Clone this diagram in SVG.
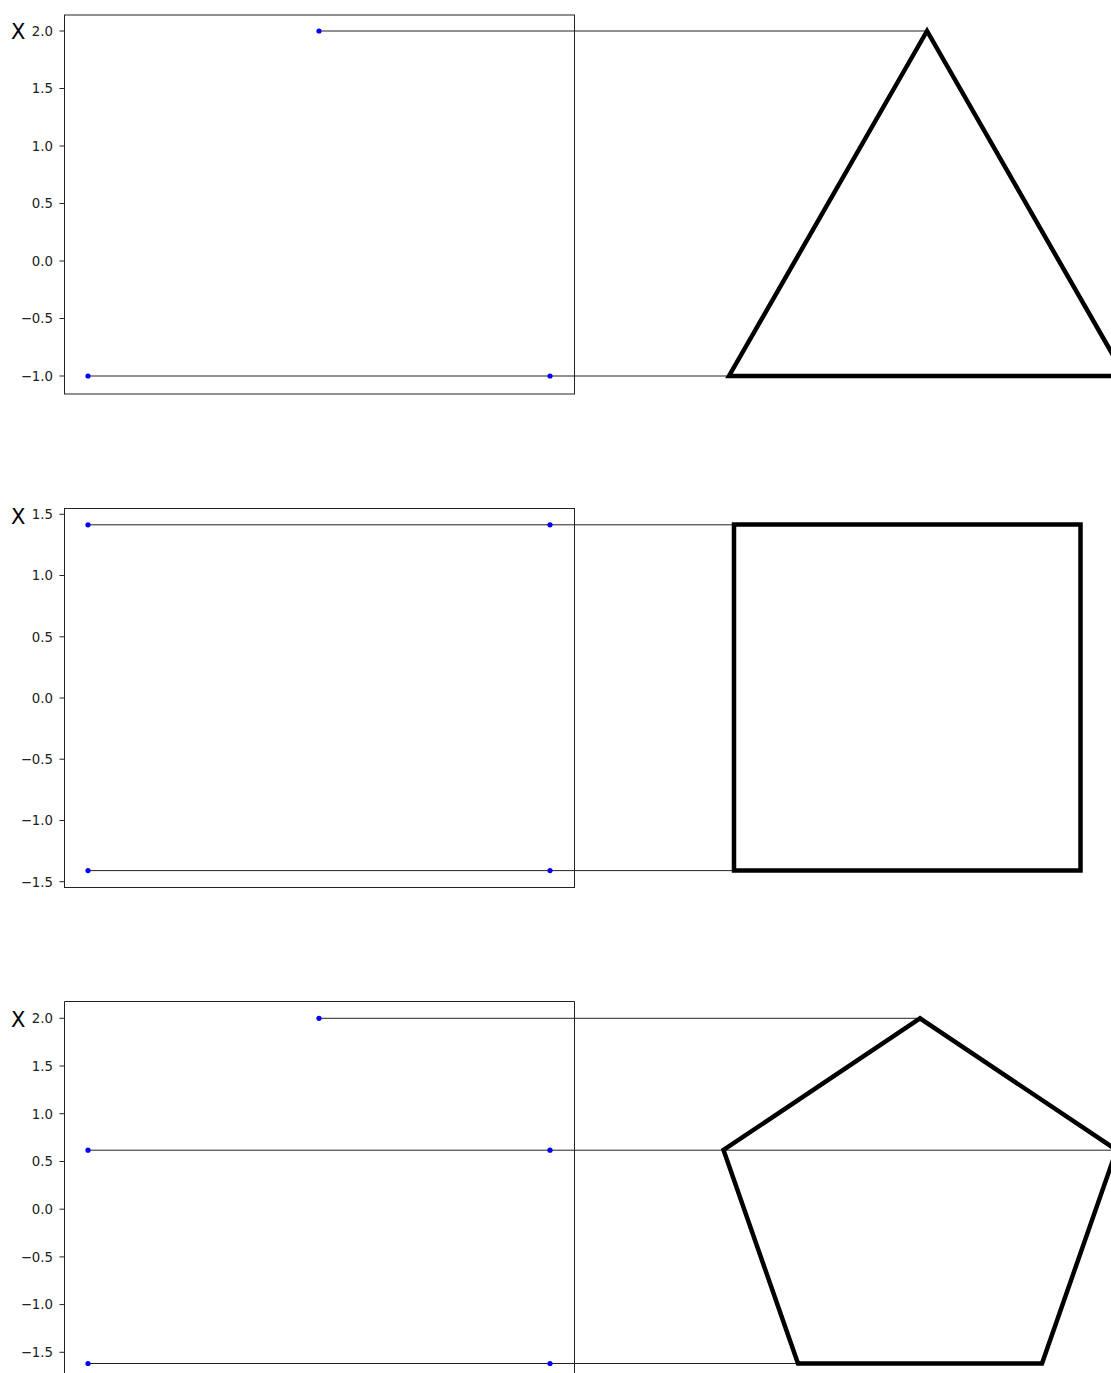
<svg xmlns="http://www.w3.org/2000/svg" width="1111" height="1373" viewBox="0 0 1111 1373">
<style>
.frame{fill:none;stroke:#222;stroke-width:1}
.tick{stroke:#222;stroke-width:1}
.tl{font-family:"DejaVu Sans",sans-serif;font-size:13.3px;fill:#222;text-anchor:end}
.xl{font-family:"DejaVu Sans",sans-serif;font-size:21px;fill:#000}
.dot{fill:#0000ff}
.conn{stroke:#222;stroke-width:1;fill:none}
.shape{fill:none;stroke:#000;stroke-width:4.5;stroke-linejoin:miter}
</style>
<rect width="1111" height="1373" fill="#fff"/>

<!-- Panel 1 axes -->
<g id="axes1">
<rect class="frame" x="64.5" y="15" width="510" height="379"/>
<g class="tick">
<line x1="59.5" y1="31" x2="64.5" y2="31"/>
<line x1="59.5" y1="88.5" x2="64.5" y2="88.5"/>
<line x1="59.5" y1="146" x2="64.5" y2="146"/>
<line x1="59.5" y1="203.5" x2="64.5" y2="203.5"/>
<line x1="59.5" y1="261" x2="64.5" y2="261"/>
<line x1="59.5" y1="318.5" x2="64.5" y2="318.5"/>
<line x1="59.5" y1="376" x2="64.5" y2="376"/>
</g>
<text class="tl" x="53" y="35.8">2.0</text>
<text class="tl" x="53" y="93.3">1.5</text>
<text class="tl" x="53" y="150.8">1.0</text>
<text class="tl" x="53" y="208.3">0.5</text>
<text class="tl" x="53" y="265.8">0.0</text>
<text class="tl" x="53" y="323.3">−0.5</text>
<text class="tl" x="53" y="380.8">−1.0</text>
<text class="xl" x="11" y="38.5">X</text>
</g>

<!-- Panel 2 axes -->
<g id="axes2">
<rect class="frame" x="64.5" y="508.5" width="510" height="379"/>
<g class="tick">
<line x1="59.5" y1="514.3" x2="64.5" y2="514.3"/>
<line x1="59.5" y1="575.5" x2="64.5" y2="575.5"/>
<line x1="59.5" y1="636.8" x2="64.5" y2="636.8"/>
<line x1="59.5" y1="698" x2="64.5" y2="698"/>
<line x1="59.5" y1="759.2" x2="64.5" y2="759.2"/>
<line x1="59.5" y1="820.5" x2="64.5" y2="820.5"/>
<line x1="59.5" y1="881.7" x2="64.5" y2="881.7"/>
</g>
<text class="tl" x="53" y="519.1">1.5</text>
<text class="tl" x="53" y="580.3">1.0</text>
<text class="tl" x="53" y="641.6">0.5</text>
<text class="tl" x="53" y="702.8">0.0</text>
<text class="tl" x="53" y="764">−0.5</text>
<text class="tl" x="53" y="825.3">−1.0</text>
<text class="tl" x="53" y="886.5">−1.5</text>
<text class="xl" x="11" y="524">X</text>
</g>

<!-- Panel 3 axes -->
<g id="axes3">
<path class="frame" d="M64.5,1380 V1001.5 H574.5 V1380"/>
<g class="tick">
<line x1="59.5" y1="1018.3" x2="64.5" y2="1018.3"/>
<line x1="59.5" y1="1066" x2="64.5" y2="1066"/>
<line x1="59.5" y1="1113.7" x2="64.5" y2="1113.7"/>
<line x1="59.5" y1="1161.5" x2="64.5" y2="1161.5"/>
<line x1="59.5" y1="1209.2" x2="64.5" y2="1209.2"/>
<line x1="59.5" y1="1256.9" x2="64.5" y2="1256.9"/>
<line x1="59.5" y1="1304.6" x2="64.5" y2="1304.6"/>
<line x1="59.5" y1="1352.3" x2="64.5" y2="1352.3"/>
</g>
<text class="tl" x="53" y="1023.1">2.0</text>
<text class="tl" x="53" y="1070.8">1.5</text>
<text class="tl" x="53" y="1118.5">1.0</text>
<text class="tl" x="53" y="1166.3">0.5</text>
<text class="tl" x="53" y="1214">0.0</text>
<text class="tl" x="53" y="1261.7">−0.5</text>
<text class="tl" x="53" y="1309.4">−1.0</text>
<text class="tl" x="53" y="1357.1">−1.5</text>
<text class="xl" x="11" y="1026.5">X</text>
</g>

<!-- Connectors -->
<g id="connectors">
<line class="conn" x1="319" y1="31" x2="927" y2="31"/>
<line class="conn" x1="88" y1="376" x2="729" y2="376"/>
<line class="conn" x1="88" y1="524.8" x2="734" y2="524.8"/>
<line class="conn" x1="88" y1="870.6" x2="734" y2="870.6"/>
<line class="conn" x1="319" y1="1018.3" x2="920" y2="1018.3"/>
<line class="conn" x1="88" y1="1150.2" x2="1111" y2="1150.2"/>
<line class="conn" x1="88" y1="1363.5" x2="798" y2="1363.5"/>
</g>

<!-- Points -->
<g id="points">
<circle class="dot" cx="319" cy="31" r="2.6"/>
<circle class="dot" cx="88" cy="376" r="2.6"/>
<circle class="dot" cx="550" cy="376" r="2.6"/>
<circle class="dot" cx="88" cy="524.8" r="2.6"/>
<circle class="dot" cx="550" cy="524.8" r="2.6"/>
<circle class="dot" cx="88" cy="870.6" r="2.6"/>
<circle class="dot" cx="550" cy="870.6" r="2.6"/>
<circle class="dot" cx="319" cy="1018.3" r="2.6"/>
<circle class="dot" cx="88" cy="1150.2" r="2.6"/>
<circle class="dot" cx="550" cy="1150.2" r="2.6"/>
<circle class="dot" cx="88" cy="1363.5" r="2.6"/>
<circle class="dot" cx="550" cy="1363.5" r="2.6"/>
</g>

<!-- Shapes -->
<g id="triangle">
<polygon class="shape" points="927,31 729,376 1125,376"/>
</g>
<g id="square">
<rect class="shape" x="734" y="524.5" width="346.5" height="346"/>
</g>
<g id="pentagon">
<polygon class="shape" points="920,1018.3 723.5,1150 798,1363.5 1042,1363.5 1116.5,1150"/>
</g>
</svg>
